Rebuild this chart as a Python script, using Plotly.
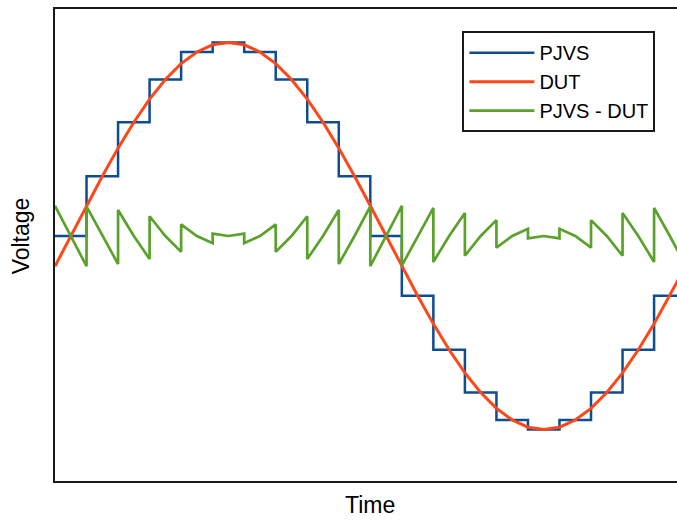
import plotly.graph_objects as go

# ---- data (time in PJVS step units, voltage normalised to peak) ----
pjvs_step_start = [-0.5, 0.5, 1.5, 2.5, 3.5, 4.5, 5.5, 6.5, 7.5, 8.5,
                   9.5, 10.5, 11.5, 12.5, 13.5, 14.5, 15.5, 16.5, 17.5, 18.5, 19.5]
pjvs_levels = [0.0, 0.309, 0.588, 0.809, 0.951, 1.0, 0.951, 0.809, 0.588, 0.309,
               0.0, -0.309, -0.588, -0.809, -0.951, -1.0, -0.951, -0.809, -0.588, -0.309]

dut_time = [-0.5, 0.0, 0.5, 1.0, 1.5, 2.0, 2.5, 3.0, 3.5, 4.0, 4.5, 5.0, 5.5, 6.0, 6.5,
            7.0, 7.5, 8.0, 8.5, 9.0, 9.5, 10.0, 10.5, 11.0, 11.5, 12.0, 12.5, 13.0, 13.5,
            14.0, 14.5, 15.0, 15.5, 16.0, 16.5, 17.0, 17.5, 18.0, 18.5, 19.0, 19.5]
dut_values = [-0.156, 0.0, 0.156, 0.309, 0.454, 0.588, 0.707, 0.809, 0.891, 0.951, 0.988,
              1.0, 0.988, 0.951, 0.891, 0.809, 0.707, 0.588, 0.454, 0.309, 0.156, 0.0,
              -0.156, -0.309, -0.454, -0.588, -0.707, -0.809, -0.891, -0.951, -0.988,
              -1.0, -0.988, -0.951, -0.891, -0.809, -0.707, -0.588, -0.454, -0.309, -0.156]

series_names = ["PJVS", "DUT", "PJVS - DUT"]
colors = ["#0e4d8f", "#ff4717", "#5ba22c"]

# PJVS staircase (hv shape)
pjvs_x = pjvs_step_start
pjvs_y = pjvs_levels + [pjvs_levels[-1]]

# difference PJVS - DUT, built from the arrays (3 DUT samples per step)
diff_x, diff_y = [], []
for k, level in enumerate(pjvs_levels):
    for j in range(3):
        idx = 2 * k + j
        diff_x.append(dut_time[idx])
        diff_y.append(level - dut_values[idx])

fig = go.Figure()
fig.add_trace(go.Scatter(x=pjvs_x, y=pjvs_y, mode="lines", name=series_names[0],
                         line=dict(color=colors[0], width=2.5, shape="hv")))
fig.add_trace(go.Scatter(x=dut_time, y=dut_values, mode="lines", name=series_names[1],
                         line=dict(color=colors[1], width=3)))
fig.add_trace(go.Scatter(x=diff_x, y=diff_y, mode="lines", name=series_names[2],
                         line=dict(color=colors[2], width=2.7)))

font_family = "Arial, Liberation Sans, sans-serif"

fig.update_layout(
    width=677, height=521,
    margin=dict(l=55, r=0, t=9, b=40),
    paper_bgcolor="white", plot_bgcolor="white",
    font=dict(family=font_family, color="#000000"),
    showlegend=True,
    legend=dict(x=0.655, y=0.953, xanchor="left", yanchor="top",
                bgcolor="white", bordercolor="#1a1a1a", borderwidth=2,
                font=dict(size=20, family=font_family), itemwidth=65),
    xaxis=dict(range=[-0.5, 19.227], showgrid=False, zeroline=False, showticklabels=False,
               ticks="", showline=True, linecolor="#1a1a1a", linewidth=2, mirror=True,
               fixedrange=True),
    yaxis=dict(range=[-1.266, 1.173], showgrid=False, zeroline=False, showticklabels=False,
               ticks="", showline=True, linecolor="#1a1a1a", linewidth=2, mirror=False,
               fixedrange=True),
    annotations=[
        dict(text="Time", xref="paper", yref="paper", x=0.5064, y=-0.05,
             xanchor="center", yanchor="middle", showarrow=False,
             font=dict(size=23, family=font_family, color="#000")),
        dict(text="Voltage", xref="paper", yref="paper", x=-0.055, y=0.52,
             xanchor="center", yanchor="middle", showarrow=False, textangle=-90,
             font=dict(size=23, family=font_family, color="#000")),
    ],
)

fig.write_html("out.html", config={"displayModeBar": False},
               post_script="document.body.style.margin='0';document.body.style.overflow='hidden';")
